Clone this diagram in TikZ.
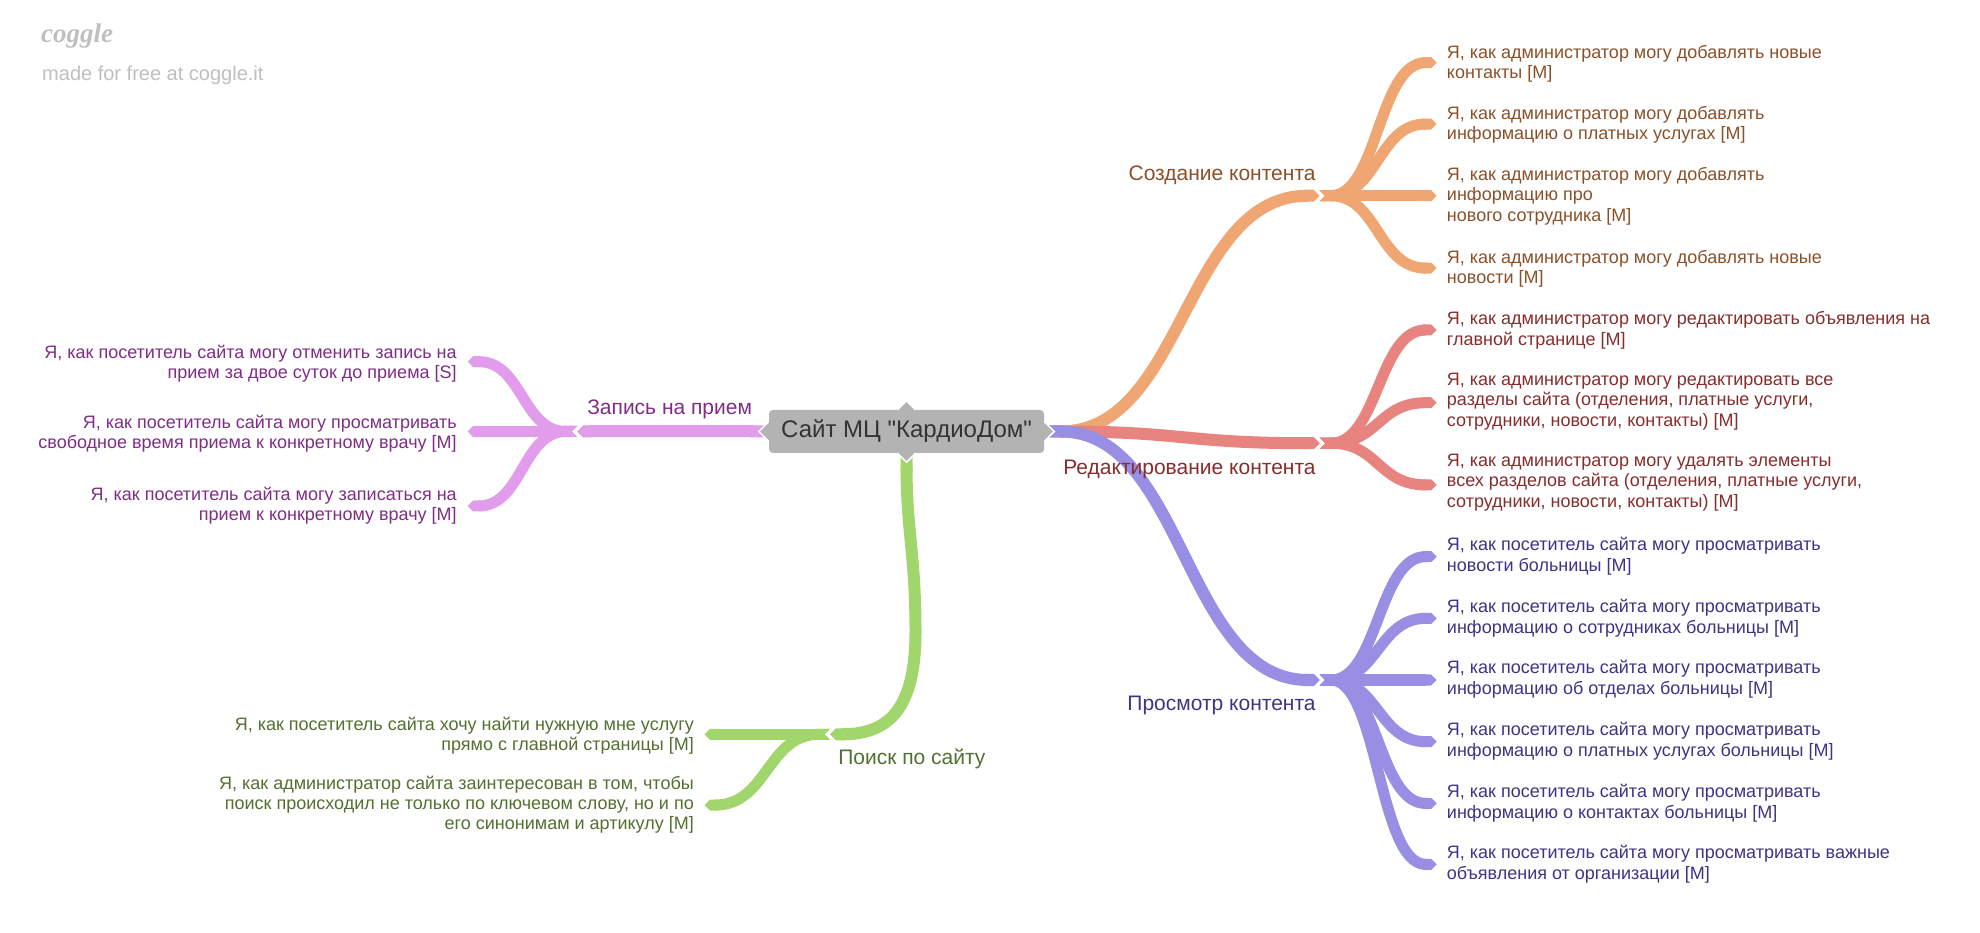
\documentclass[tikz,border=0pt]{standalone}
\usepackage{fontspec}
\setmainfont{Liberation Sans}[Ligatures=TeXOff]
\newfontfamily\logofont{Liberation Serif}
\usetikzlibrary{arrows.meta,calc}
\definecolor{oranC}{RGB}{240,166,114}
\definecolor{oranT}{RGB}{140,80,40}
\definecolor{redC}{RGB}{232,132,128}
\definecolor{redT}{RGB}{135,45,45}
\definecolor{purC}{RGB}{152,143,228}
\definecolor{purT}{RGB}{62,52,135}
\definecolor{grnC}{RGB}{160,214,108}
\definecolor{grnT}{RGB}{82,112,48}
\definecolor{pnkC}{RGB}{226,156,236}
\definecolor{pnkT}{RGB}{128,45,135}
\definecolor{rootF}{RGB}{179,179,179}
\definecolor{rootT}{RGB}{51,51,51}
\definecolor{logoG}{RGB}{191,191,191}
\tikzset{
  mainconn/.style={line width=12pt, {Triangle Cap[reversed]}-{Triangle Cap[]}},
  subconn/.style={line width=11pt, {Triangle Cap[reversed]}-{Triangle Cap[]}},
  leafR/.style={anchor=west, align=left, inner sep=0pt, font=\fontsize{18}{20.4}\selectfont},
  leafL/.style={anchor=east, align=right, inner sep=0pt, font=\fontsize{18}{20.4}\selectfont},
  blabel/.style={inner sep=0pt, text height=15pt, text depth=5pt, font=\fontsize{21}{24}\selectfont},
  rootbox/.style={fill=rootF, rounded corners=4pt, minimum width=275pt, minimum height=43pt, inner sep=0pt, text=rootT, font=\fontsize{24}{28}\selectfont},
  protr/.style={fill=rootF},
  protredge/.style={draw=white, line width=1.5pt},
}
\newcommand\mmconn[3]{%
  \path ($(#2)!0.5!(#3)$) coordinate (mmmid);
  \draw[#1] (#2) .. controls (mmmid |- #2) and (mmmid |- #3) .. (#3);
}
\begin{document}
\begin{tikzpicture}[x=1.26276pt, y=-1.26276pt]
\fill[white] (0,0) rectangle (1568,738.86);
\useasboundingbox (0,0) rectangle (1568,738.86);

% logo
\node[anchor=west, inner sep=0pt, text=logoG, font=\logofont\bfseries\itshape\fontsize{27}{30}\selectfont] (logo) at (32.5,28.5) {coggle};
\node[anchor=west, inner sep=0pt, text=logoG, font=\fontsize{20}{24}\selectfont] (made) at (33.3,60) {made for free at coggle.it};

% key coordinates
\coordinate (rootL) at (605.8,341.7);
\coordinate (rootR) at (830.5,341.7);
\coordinate (rootB) at (717.9,362);
\coordinate (oB) at (1045,155);
\coordinate (rB) at (1045.3,351);
\coordinate (uB) at (1045.3,538.5);
\coordinate (kB) at (457,341.7);
\coordinate (gB) at (657.3,581.5);
\coordinate (gM) at (725,500);

\coordinate (o1t) at (1137.7,49.6);
\coordinate (o2t) at (1137.7,98.2);
\coordinate (o3t) at (1137.7,155);
\coordinate (o4t) at (1137.7,212.3);
\coordinate (r1t) at (1137.7,261.3);
\coordinate (r2t) at (1137.7,318.9);
\coordinate (r3t) at (1137.7,384);
\coordinate (u1t) at (1137.7,440.8);
\coordinate (u2t) at (1137.7,489.7);
\coordinate (u3t) at (1137.7,538.5);
\coordinate (u4t) at (1137.7,587.3);
\coordinate (u5t) at (1137.7,636.2);
\coordinate (u6t) at (1137.7,684.5);
\coordinate (k1t) at (370.4,286.4);
\coordinate (k2t) at (370.4,341.7);
\coordinate (k3t) at (370.4,400.7);
\coordinate (g1t) at (557.9,581.5);
\coordinate (g2t) at (557.9,637.5);

% main connectors
\mmconn{mainconn,oranC}{rootR}{oB}
\mmconn{mainconn,redC}{rootR}{rB}
\mmconn{mainconn,purC}{rootR}{uB}
\draw[mainconn,pnkC] (rootL) -- (kB);
\draw[mainconn,grnC] (rootB) .. controls (718,420) and (725,440) .. (gM) .. controls (725,560) and (705,581.5) .. (gB);

% sub connectors
\foreach \t in {o1t,o2t,o3t,o4t}{\mmconn{subconn,oranC}{oB}{\t}}
\foreach \t in {r1t,r2t,r3t}{\mmconn{subconn,redC}{rB}{\t}}
\foreach \t in {u1t,u2t,u3t,u4t,u5t,u6t}{\mmconn{subconn,purC}{uB}{\t}}
\foreach \t in {k1t,k2t,k3t}{\mmconn{subconn,pnkC}{kB}{\t}}
\foreach \t in {g1t,g2t}{\mmconn{subconn,grnC}{gB}{\t}}

% root
\node[rootbox] (root) at (717.9,341.7) {Сайт МЦ "КардиоДом"};
\fill[protr] ([yshift=10pt]root.west) -- ([xshift=-10pt]root.west) -- ([yshift=-10pt]root.west) -- cycle;
\draw[protredge] ([yshift=10pt]root.west) -- ([xshift=-10pt]root.west) -- ([yshift=-10pt]root.west);
\fill[protr] ([yshift=10pt]root.east) -- ([xshift=10pt]root.east) -- ([yshift=-10pt]root.east) -- cycle;
\draw[protredge] ([yshift=10pt]root.east) -- ([xshift=10pt]root.east) -- ([yshift=-10pt]root.east);
\fill[protr] ([xshift=-9pt]root.north) -- ([yshift=9pt]root.north) -- ([xshift=9pt]root.north) -- cycle;
\draw[protredge] ([xshift=-9pt]root.north) -- ([yshift=9pt]root.north) -- ([xshift=9pt]root.north);
\fill[protr] ([xshift=-9pt]root.south) -- ([yshift=-9pt]root.south) -- ([xshift=9pt]root.south) -- cycle;
\draw[protredge] ([xshift=-9pt]root.south) -- ([yshift=-9pt]root.south) -- ([xshift=9pt]root.south);

% branch labels
\node[blabel, anchor=east, text=oranT] (oL) at (1042,138.8) {Создание контента};
\node[blabel, anchor=east, text=redT] (rL) at (1042,371.6) {Редактирование контента};
\node[blabel, anchor=east, text=purT] (uL) at (1042,558.3) {Просмотр контента};
\node[blabel, anchor=west, text=pnkT] (kL) at (464.9,324.6) {Запись на прием};
\node[blabel, anchor=west, text=grnT] (gL) at (663.7,601.8) {Поиск по сайту};

% orange leaves
\node[leafR, text=oranT] (o1) at (1145.7,50.5) {Я, как администратор могу добавлять новые\\контакты [M]};
\node[leafR, text=oranT] (o2) at (1145.7,98.7) {Я, как администратор могу добавлять\\информацию о платных услугах [M]};
\node[leafR, text=oranT] (o3) at (1145.7,155.4) {Я, как администратор могу добавлять\\информацию про\\нового сотрудника [M]};
\node[leafR, text=oranT] (o4) at (1145.7,212.8) {Я, как администратор могу добавлять новые\\новости [M]};
% red leaves
\node[leafR, text=redT] (r1) at (1145.7,261.4) {Я, как администратор могу редактировать объявления на\\главной странице [M]};
\node[leafR, text=redT] (r2) at (1145.7,318) {Я, как администратор могу редактировать все\\разделы сайта (отделения, платные услуги,\\сотрудники, новости, контакты) [M]};
\node[leafR, text=redT] (r3) at (1145.7,382) {Я, как администратор могу удалять элементы\\всех разделов сайта (отделения, платные услуги,\\сотрудники, новости, контакты) [M]};
% purple leaves
\node[leafR, text=purT] (u1) at (1145.7,440.5) {Я, как посетитель сайта могу просматривать\\новости больницы [M]};
\node[leafR, text=purT] (u2) at (1145.7,489.6) {Я, как посетитель сайта могу просматривать\\информацию о сотрудниках больницы [M]};
\node[leafR, text=purT] (u3) at (1145.7,537.8) {Я, как посетитель сайта могу просматривать\\информацию об отделах больницы [M]};
\node[leafR, text=purT] (u4) at (1145.7,586.8) {Я, как посетитель сайта могу просматривать\\информацию о платных услугах больницы [M]};
\node[leafR, text=purT] (u5) at (1145.7,636.1) {Я, как посетитель сайта могу просматривать\\информацию о контактах больницы [M]};
\node[leafR, text=purT] (u6) at (1145.7,684.3) {Я, как посетитель сайта могу просматривать важные\\объявления от организации [M]};
% pink leaves
\node[leafL, text=pnkT] (k1) at (361.8,288) {Я, как посетитель сайта могу отменить запись на\\прием за двое суток до приема [S]};
\node[leafL, text=pnkT] (k2) at (361.8,343.5) {Я, как посетитель сайта могу просматривать\\свободное время приема к конкретному врачу [M]};
\node[leafL, text=pnkT] (k3) at (361.8,400.5) {Я, как посетитель сайта могу записаться на\\прием к конкретному врачу [M]};
% green leaves
\node[leafL, text=grnT] (g1) at (549.6,582.4) {Я, как посетитель сайта хочу найти нужную мне услугу\\прямо с главной страницы [M]};
\node[leafL, text=grnT] (g2) at (549.6,637.2) {Я, как администратор сайта заинтересован в том, чтобы\\поиск происходил не только по ключевом слову, но и по\\его синонимам и артикулу [M]};
\end{tikzpicture}
\end{document}
